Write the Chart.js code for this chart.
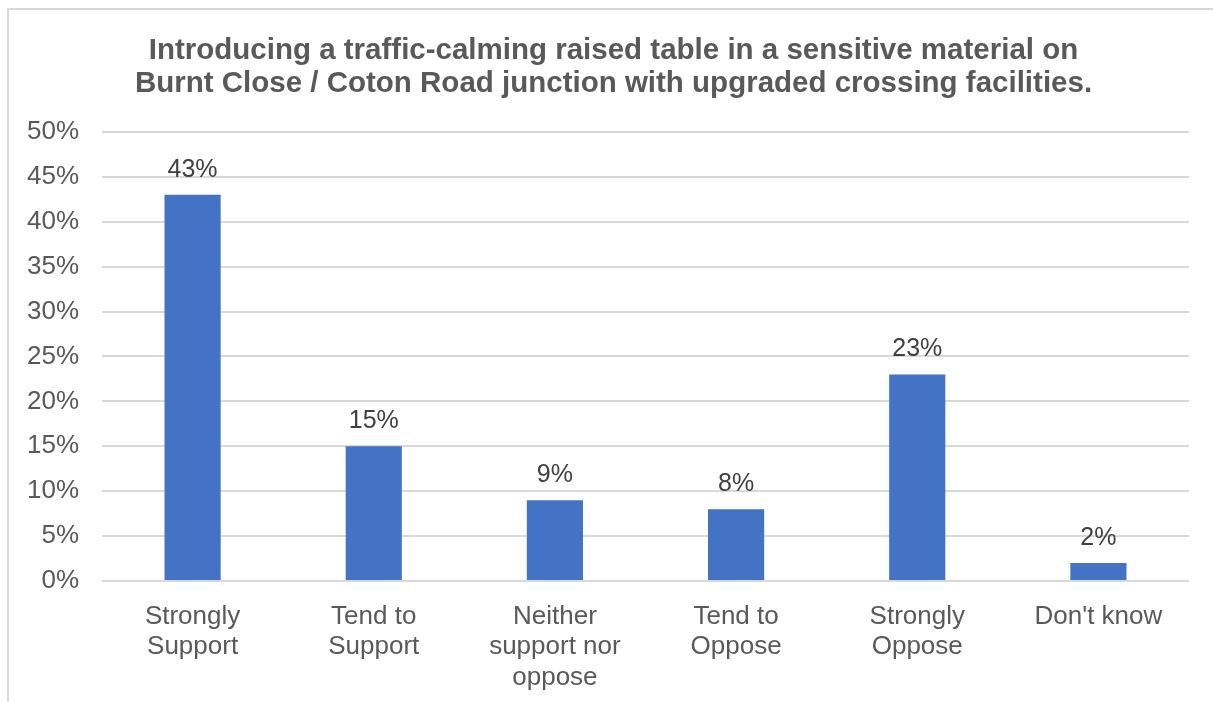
<!DOCTYPE html>
<html>
<head>
<meta charset="utf-8">
<script src="https://cdn.jsdelivr.net/npm/chart.js@4"></script>
<style>
  html, body { margin: 0; padding: 0; background: #fff; }
  #wrap { position: relative; width: 1213px; height: 702px; }
  #frame { position: absolute; left: 7px; top: 8px; right: 0; bottom: 0;
           border-left: 2px solid #d9d9d9; border-top: 2px solid #d9d9d9; }
  canvas { position: absolute; left: 0; top: 0; }
</style>
</head>
<body>
<div id="wrap">
  <div id="frame"></div>
  <canvas id="myChart" width="1213" height="702"></canvas>
</div>
<script>
// categories, values (%) and axis ticks
var categories = [
  ['Strongly', 'Support'],
  ['Tend to', 'Support'],
  ['Neither', 'support nor', 'oppose'],
  ['Tend to', 'Oppose'],
  ['Strongly', 'Oppose'],
  ["Don't know"]
];
var percentages = [43, 15, 9, 8, 23, 2];
var yTicks = [0, 5, 10, 15, 20, 25, 30, 35, 40, 45, 50];
var titleLines = [
  'Introducing a traffic-calming raised table in a sensitive material on',
  'Burnt Close / Coton Road junction with upgraded crossing facilities.'
];

var FONT = "'Liberation Sans', Arial, sans-serif";

// value labels above each bar
const barLabels = {
  id: 'barLabels',
  afterLayout(chart) {
    // nudge the title a little right of the canvas centre
    const t = chart.titleBlock;
    if (t) { t.left += 28; }
  },
  afterDatasetsDraw(chart) {
    const ctx = chart.ctx;
    const meta = chart.getDatasetMeta(0);
    ctx.save();
    ctx.font = '25px ' + FONT;
    ctx.fillStyle = '#404040';
    ctx.textAlign = 'center';
    ctx.textBaseline = 'alphabetic';
    meta.data.forEach(function (bar, i) {
      ctx.fillText(percentages[i] + '%', bar.x, bar.y - 18);
    });
    ctx.restore();
  }
};

const data = {
  labels: categories,
  datasets: [{
    data: percentages,
    backgroundColor: '#4472C4',
    borderWidth: 0,
    barPercentage: 0.31,
    categoryPercentage: 1
  }]
};

const config = {
  type: 'bar',
  data: data,
  options: {
    responsive: false,
    animation: false,
    layout: { padding: { left: 10, right: 24, top: 10, bottom: 0 } },
    plugins: {
      legend: { display: false },
      tooltip: { enabled: false },
      title: {
        display: true,
        text: titleLines,
        color: '#595959',
        font: { family: FONT, size: 29.5, weight: 'bold', lineHeight: 1.1 },
        padding: { top: 25, bottom: 32 }
      }
    },
    scales: {
      x: {
        grid: { display: false },
        border: { display: false },
        ticks: {
          color: '#595959',
          font: { family: FONT, size: 26, lineHeight: 1.18 },
          padding: 12,
          maxRotation: 0,
          autoSkip: false
        },
        afterFit: function (axis) { axis.height = 121; }
      },
      y: {
        min: 0,
        max: 50,
        afterBuildTicks: function (axis) {
          axis.ticks = yTicks.map(function (v) { return { value: v }; });
        },
        grid: { color: '#d9d9d9', lineWidth: 2, drawTicks: false },
        border: { display: false },
        ticks: {
          color: '#595959',
          font: { family: FONT, size: 26 },
          padding: 23,
          callback: function (v) { return v + '%'; }
        },
        afterFit: function (axis) { axis.width = 92; }
      }
    }
  },
  plugins: [barLabels]
};

const myChart = new Chart(document.getElementById('myChart'), config);
</script>
</body>
</html>
